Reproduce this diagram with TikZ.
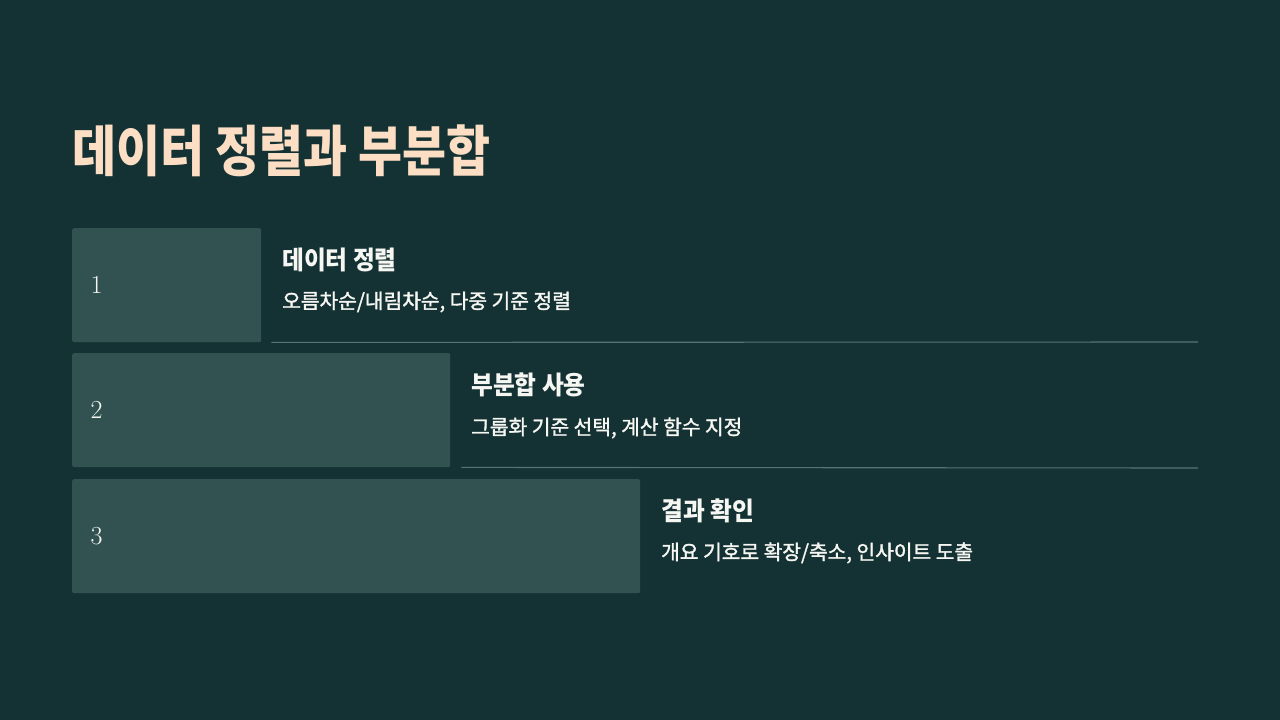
\documentclass[tikz,border=0pt]{standalone}
\usepackage{fontspec}
\newfontfamily\kr{Noto Sans CJK KR}[FakeStretch=0.87]
\newfontfamily\krhead{Noto Sans CJK KR}[FakeStretch=0.93]
\newfontfamily\krsub{Noto Sans CJK KR}[FakeBold=1.6]
\definecolor{bgteal}{HTML}{143233}
\definecolor{boxteal}{HTML}{325252}
\definecolor{lineteal}{HTML}{557573}
\definecolor{peach}{HTML}{FCDEC4}
\definecolor{paper}{HTML}{F6F6F2}
\tikzset{
  stepbox/.style={fill=boxteal,rounded corners=2pt,anchor=north west,minimum height=114pt,inner sep=0pt},
  numlabel/.style={anchor=west,text=paper,font=\fontsize{26}{30}\selectfont},
  headlabel/.style={anchor=west,text=paper,inner sep=0pt,font=\krhead\bfseries\fontsize{25.5}{30}\selectfont},
  sublabel/.style={anchor=west,text=paper,inner sep=0pt,font=\krsub\fontsize{20.3}{24}\selectfont},
  sepline/.style={draw=lineteal,line width=1.1pt}
}

\begin{document}
\begin{tikzpicture}[x=1pt,y=-1pt]
\useasboundingbox [fill=bgteal] (0,0) rectangle (1280,720);

\node [anchor=base west,inner sep=0pt,text=peach,font=\kr\bfseries\fontsize{55}{64}\selectfont] (title) at (72,171) {데이터 정렬과 부분합};

\node [stepbox,minimum width=189pt] (box1) at (72,228) {};
\node [stepbox,minimum width=378pt] (box2) at (72,353) {};
\node [stepbox,minimum width=568pt] (box3) at (72,479) {};

\node [numlabel] (num1) at (87,285) {1};
\node [numlabel] (num2) at (87,410) {2};
\node [numlabel] (num3) at (87,536) {3};

\node [headlabel] (head1) at (282,260) {데이터 정렬};
\node [sublabel]  (sub1)  at (282,302) {오름차순/내림차순, 다중 기준 정렬};
\node [headlabel] (head2) at (471,385) {부분합 사용};
\node [sublabel]  (sub2)  at (471,428) {그룹화 기준 선택, 계산 함수 지정};
\node [headlabel] (head3) at (661,511) {결과 확인};
\node [sublabel]  (sub3)  at (661,553) {개요 기호로 확장/축소, 인사이트 도출};

\draw [sepline] ([xshift=10pt]box1.south east) -- (1198,342);
\draw [sepline] ([xshift=11pt]box2.south east) -- (1198,468);
\end{tikzpicture}
\end{document}
